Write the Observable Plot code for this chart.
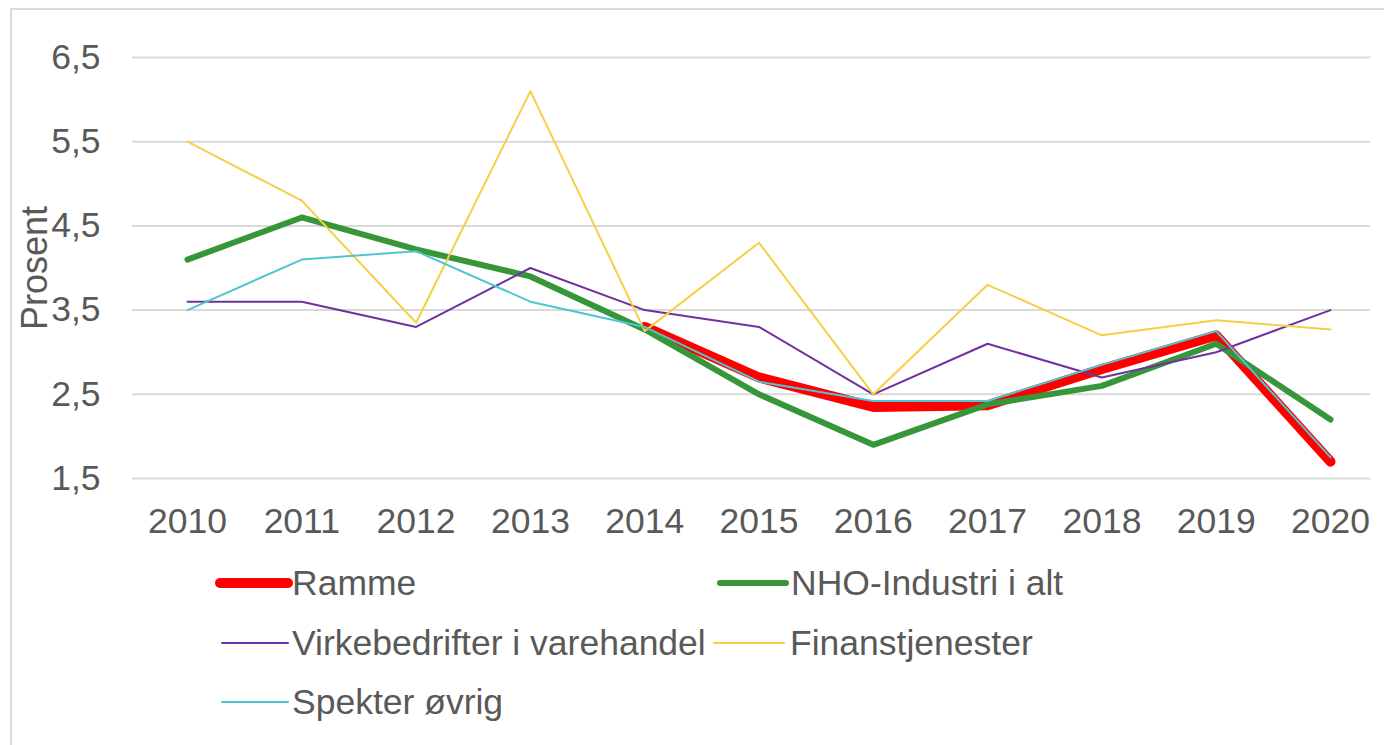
<!DOCTYPE html>
<html>
<head>
<meta charset="utf-8">
<script src="https://cdn.jsdelivr.net/npm/d3@7"></script>
<script src="https://cdn.jsdelivr.net/npm/@observablehq/plot@0.6"></script>
<style>
  html, body { margin: 0; padding: 0; background: #fff; }
  body { width: 1384px; height: 745px; position: relative; overflow: hidden; font-family: "Liberation Sans", Arial, sans-serif; color: #595959; }
  #frame { position: absolute; left: 10px; top: 8px; width: 1400px; height: 760px; border: 2px solid #d9d9d9; box-sizing: border-box; }
  #chart { position: absolute; left: 0; top: 0; }
  #ylabel { position: absolute; left: 35px; top: 268px; transform: translate(-50%, -50%) rotate(-90deg); font-size: 36px; white-space: nowrap; }
  .leg { position: absolute; display: flex; align-items: center; font-size: 35.5px; white-space: nowrap; }
  .leg svg { display: block; }
</style>
</head>
<body>
<div id="frame"></div>
<div id="chart"></div>
<div id="ylabel">Prosent</div>
<div id="legend"></div>
<script>
const years = [2010, 2011, 2012, 2013, 2014, 2015, 2016, 2017, 2018, 2019, 2020];
const yTicks = [1.5, 2.5, 3.5, 4.5, 5.5, 6.5];
const seriesNames = ["Ramme", "NHO-Industri i alt", "Virkebedrifter i varehandel", "Finanstjenester", "Spekter øvrig"];
const ramme   = [null, null, null, null, 3.3, 2.7, 2.35, 2.37, 2.8, 3.2, 1.7];
const nho     = [4.1, 4.6, 4.22, 3.9, 3.27, 2.5, 1.9, 2.38, 2.6, 3.1, 2.2];
const virke   = [3.6, 3.6, 3.3, 4.0, 3.5, 3.3, 2.5, 3.1, 2.7, 3.0, 3.5];
const finans  = [5.5, 4.8, 3.35, 6.1, 3.25, 4.3, 2.5, 3.8, 3.2, 3.38, 3.27];
const spekter = [3.5, 4.1, 4.2, 3.6, 3.3, 2.65, 2.42, 2.42, 2.85, 3.25, 1.75];

const seriesValues = [ramme, nho, virke, finans, spekter];
const colors = ["#ff0000", "#37963a", "#7030a0", "#f5cf45", "#4ec6d2"];
const widths = [10, 6, 2, 2, 2];

const tables = seriesValues.map((vals, i) =>
  years.map((yr, j) => ({year: yr, value: vals[j], series: seriesNames[i]}))
);

const lineMarks = tables.map((t, i) => Plot.line(t, {
  x: "year", y: "value",
  stroke: colors[i], strokeWidth: widths[i],
  strokeLinejoin: "round", strokeLinecap: "round"
}));

const chart = Plot.plot({
  width: 1384,
  height: 545,
  marginTop: 57,
  marginBottom: 67,
  marginLeft: 132,
  marginRight: 14,
  style: {fontFamily: "'Liberation Sans', Arial, sans-serif", fontSize: "35.5px", color: "#595959", background: "transparent"},
  x: {type: "linear", domain: [2010, 2020], range: [187, 1330]},
  y: {domain: [1.5, 6.5]},
  marks: [
    Plot.ruleY(yTicks, {stroke: "#d9d9d9", strokeWidth: 2}),
    Plot.axisX(years, {tickSize: 0, tickPadding: 29, tickFormat: d => String(d), label: null}),
    Plot.axisY(yTicks, {tickSize: 0, tickPadding: 32, tickFormat: d => d.toFixed(1).replace(".", ","), label: null}),
    ...lineMarks
  ]
});
document.getElementById("chart").appendChild(chart);

// Legend
const legendPos = [
  {sx: 220, sw: 68, tx: 292, y: 583},
  {sx: 720, sw: 66, tx: 791, y: 583},
  {sx: 222, sw: 66, tx: 292, y: 643},
  {sx: 714, sw: 70, tx: 790, y: 643},
  {sx: 222, sw: 66, tx: 292, y: 702}
];
const legend = document.getElementById("legend");
seriesNames.forEach((name, i) => {
  const p = legendPos[i];
  const sw = document.createElementNS("http://www.w3.org/2000/svg", "svg");
  sw.setAttribute("width", 90); sw.setAttribute("height", 20);
  sw.style.position = "absolute";
  sw.style.left = (p.sx - 10) + "px";
  sw.style.top = (p.y - 10) + "px";
  const ln = document.createElementNS("http://www.w3.org/2000/svg", "line");
  ln.setAttribute("x1", 10); ln.setAttribute("x2", 10 + p.sw);
  ln.setAttribute("y1", 10); ln.setAttribute("y2", 10);
  ln.setAttribute("stroke", colors[i]);
  ln.setAttribute("stroke-width", widths[i]);
  ln.setAttribute("stroke-linecap", "round");
  sw.appendChild(ln);
  legend.appendChild(sw);
  const tx = document.createElement("div");
  tx.className = "leg";
  tx.textContent = name;
  tx.style.left = p.tx + "px";
  tx.style.top = (p.y - 20) + "px";
  tx.style.height = "40px";
  legend.appendChild(tx);
});
</script>
</body>
</html>
